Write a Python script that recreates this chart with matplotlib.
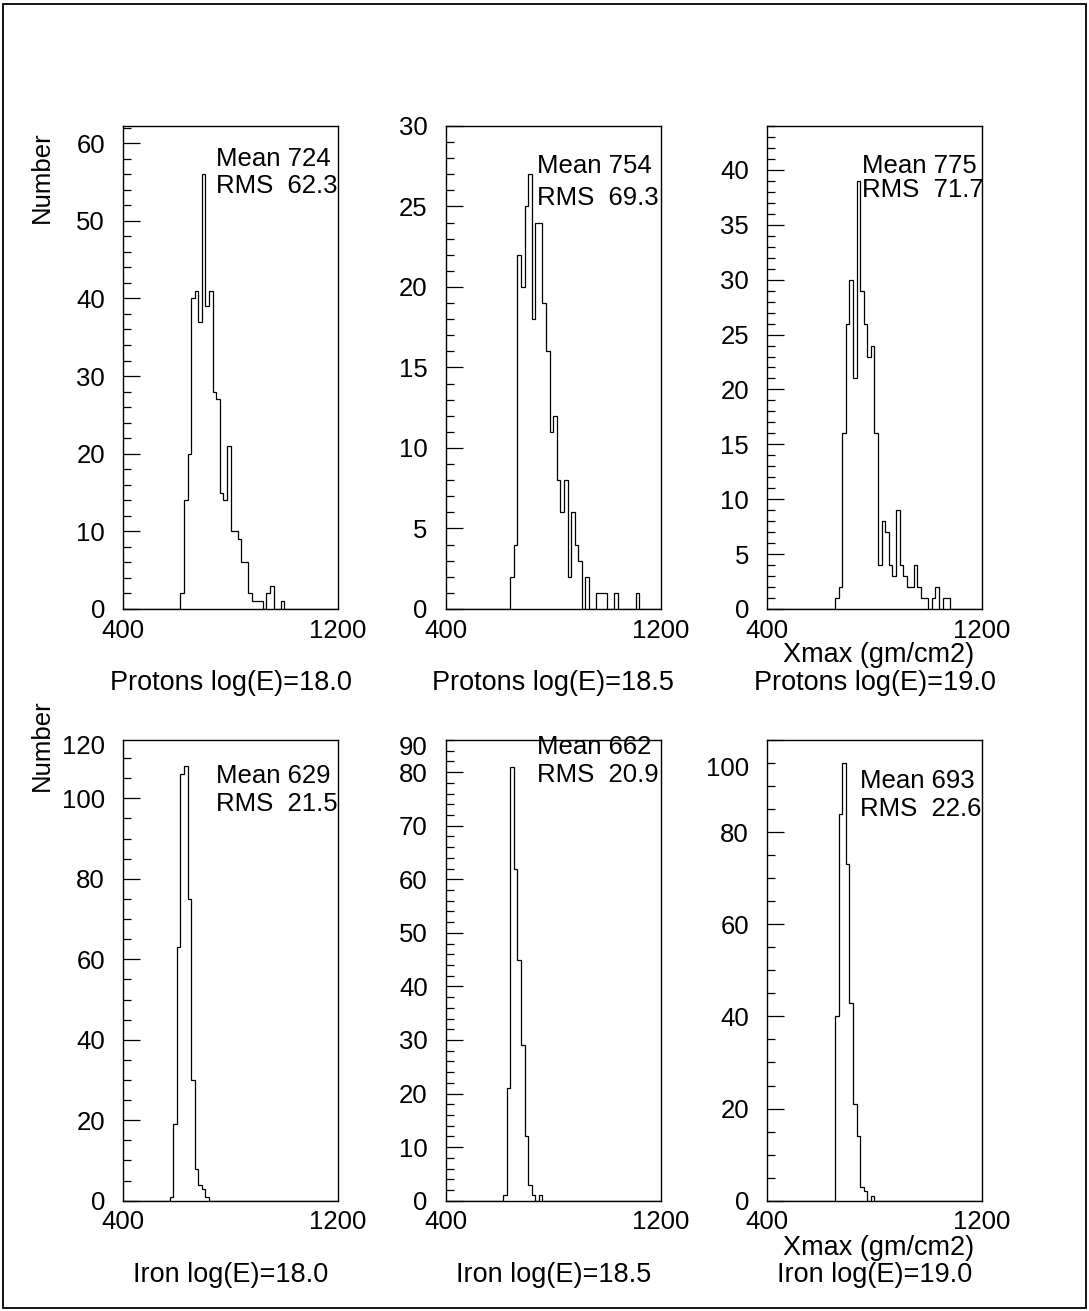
import numpy as np
import matplotlib
matplotlib.use("Agg")
import matplotlib.pyplot as plt
import matplotlib.transforms as mtransforms
from matplotlib.patches import Rectangle
from matplotlib.ticker import MultipleLocator, FixedLocator

# ---------------- data ----------------
XMIN, XMAX, NBINS = 400, 1200, 60

def pad(lst):
    return (lst + [0] * NBINS)[:NBINS]

# counts per bin (60 bins, 400..1200)
p180_counts = pad([0] * 16 + [2, 14, 20, 40, 41, 37, 56, 39, 41, 28, 27, 15, 14, 21, 10, 10, 9, 6, 6, 2,
                              1, 1, 1, 0, 2, 3, 0, 0, 1])
p185_counts = pad([0] * 18 + [2, 4, 22, 20, 25, 27, 18, 24, 24, 19, 16, 11, 12, 8, 6, 8, 2, 6, 4, 3,
                              0, 2, 0, 0, 1, 1, 1, 0, 0, 1, 0, 0, 0, 0, 0, 1])
p190_counts = pad([0] * 19 + [1, 2, 16, 26, 30, 21, 39, 29, 26, 23, 24, 16, 4, 8, 7, 4, 3, 9, 4, 3,
                              2, 2, 4, 2, 1, 1, 0, 1, 2, 0, 1, 1])
fe180_counts = pad([0] * 13 + [1, 19, 63, 106, 108, 75, 30, 8, 4, 3, 1])
fe185_counts = pad([0] * 16 + [1, 21, 81, 62, 45, 29, 12, 3, 1, 0, 1])
fe190_counts = pad([0] * 19 + [40, 84, 95, 73, 43, 21, 14, 3, 2, 0, 1])

titles = ["Protons log(E)=18.0", "Protons log(E)=18.5", "Protons log(E)=19.0",
          "Iron log(E)=18.0", "Iron log(E)=18.5", "Iron log(E)=19.0"]
means = ["724", "754", "775", "629", "662", "693"]
rmss = ["62.3", "69.3", "71.7", "21.5", "20.9", "22.6"]
ymax = [62.2, 30, 44, 114.5, 86, 100]
ymajor = [10, 5, 5, 20, 10, 20]
yminor = [2, 1, 1, 5, 2, 5]
top_extra_label = [None, None, None, 120, 90, 100]
xtick_vals = [400, 1200]
xtick_labels = ["400", "1200"]
xlabel_text = "Xmax (gm/cm2)"
ylabel_text = "Number"

all_counts = [p180_counts, p185_counts, p190_counts, fe180_counts, fe185_counts, fe190_counts]

# ---------------- layout ----------------
W, H, DPI = 1089, 1311, 100
plt.rcParams['font.family'] = ['Liberation Sans', 'DejaVu Sans']
FS = 18.5
FS_T = 19.5

fig = plt.figure(figsize=(W / DPI, H / DPI), dpi=DPI)

col_left = [123, 445.7, 767]
ax_w = 215
row_top = [126, 740]
row_bot = [609, 1200.7]

txt_pos = [(216, 159, 27), (537, 166, 32), (862, 166, 24),
           (216, 776, 28), (537, 747, 28), (860, 781, 28)]

edges = np.linspace(XMIN, XMAX, NBINS + 1)

def px2fig(x, y):
    return x / W, 1 - y / H

for i in range(6):
    r, c = divmod(i, 3)
    l = col_left[c]
    t, b = row_top[r], row_bot[r]
    ax = fig.add_axes([l / W, 1 - b / H, ax_w / W, (b - t) / H])
    ax.stairs(all_counts[i], edges, baseline=0, fill=False, color='black', lw=0.9)
    ax.set_xlim(XMIN, XMAX)
    ax.set_ylim(0, ymax[i])
    for s in ax.spines.values():
        s.set_linewidth(1.0)
        s.set_color('black')
    ax.set_xticks(xtick_vals)
    ax.set_xticklabels(xtick_labels)
    ax.tick_params(axis='x', length=0, pad=7, labelsize=FS)
    ax.yaxis.set_major_locator(MultipleLocator(ymajor[i]))
    ax.yaxis.set_minor_locator(MultipleLocator(yminor[i]))
    ax.tick_params(axis='y', which='major', direction='in', length=12, width=0.9,
                   pad=13, labelsize=FS, right=False)
    ax.tick_params(axis='y', which='minor', direction='in', length=6, width=0.9, right=False)
    ax.yaxis.set_major_formatter(matplotlib.ticker.FuncFormatter(lambda v, p: "%d" % round(v)))

    if top_extra_label[i] is not None:
        lbl_val = top_extra_label[i]
        ticks = [v for v in np.arange(0, ymax[i] + 1e-6, ymajor[i]) if v < lbl_val - 1e-6]
        ax.yaxis.set_major_locator(FixedLocator(ticks + ([lbl_val] if lbl_val <= ymax[i] else [])))
        ax.set_yticklabels([("%d" % v) for v in ticks] + ([""] if lbl_val <= ymax[i] else []))
        trans = mtransforms.blended_transform_factory(ax.transAxes, ax.transData)
        trans = trans + mtransforms.ScaledTranslation(-13 / 72, -29 / DPI, fig.dpi_scale_trans)
        ax.text(0, lbl_val, "%d" % lbl_val, transform=trans, ha='right', va='center',
                fontsize=FS, clip_on=False)

    tx, ty, dy = txt_pos[i]
    fig.text(*px2fig(tx, ty), "Mean " + means[i], fontsize=FS, ha='left', va='center')
    fig.text(*px2fig(tx, ty + dy), "RMS  " + rmss[i], fontsize=FS, ha='left', va='center')

    cx = l + ax_w / 2
    if r == 0:
        if c == 2:
            fig.text(*px2fig(cx + 4, 655), xlabel_text, fontsize=FS_T, ha='center', va='center')
        fig.text(*px2fig(cx, 683), titles[i], fontsize=FS_T, ha='center', va='center')
    else:
        if c == 2:
            fig.text(*px2fig(cx + 4, 1248), xlabel_text, fontsize=FS_T, ha='center', va='center')
        fig.text(*px2fig(cx, 1275), titles[i], fontsize=FS_T, ha='center', va='center')

fig.text(*px2fig(42, 177), ylabel_text, rotation=90, fontsize=FS, ha='center', va='center')
fig.text(*px2fig(42, 745), ylabel_text, rotation=90, fontsize=FS, ha='center', va='center')

fig.add_artist(Rectangle((3 / W, 3 / H), (W - 6) / W, (H - 7) / H, transform=fig.transFigure,
                         fill=False, edgecolor='black', lw=1.3))

fig.savefig("out.png", dpi=DPI)
